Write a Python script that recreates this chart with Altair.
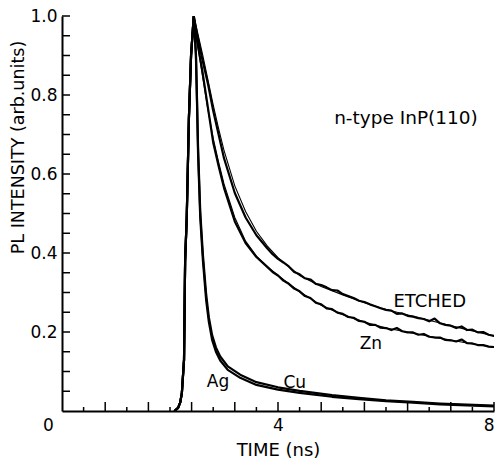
import altair as alt
import pandas as pd

# ---- data (time in ns, PL intensity in arbitrary units) ----
series_names = ["ETCHED", "Zn", "Ag", "Cu"]
sample_label = "n-type InP(110)"

# common excitation rise shared by all four transients
rise_t = [2.08, 2.15, 2.19, 2.22, 2.26, 2.28, 2.31, 2.35, 2.39, 2.44]
rise_v = [0.0, 0.008, 0.022, 0.046, 0.13, 0.38, 0.49, 0.74, 0.90, 1.0]

# measured decays
etched_t = [2.5, 2.6, 2.7, 2.8, 2.9, 3.0, 3.2, 3.4, 3.6, 3.8, 3.9,
            4.0, 4.1, 4.2, 4.3, 4.4, 4.5, 4.6, 4.7, 4.8, 4.9,
            5.0, 5.1, 5.2, 5.3, 5.4, 5.5, 5.6, 5.7, 5.8, 5.9,
            6.0, 6.1, 6.2, 6.3, 6.4, 6.5, 6.6, 6.7, 6.8, 6.9,
            7.0, 7.1, 7.2, 7.3, 7.4, 7.5, 7.6, 7.7, 7.8, 7.9, 8.0, 8.1]
etched_v = [0.955, 0.89, 0.83, 0.76, 0.70, 0.64, 0.552, 0.49, 0.445, 0.412, 0.397,
            0.385, 0.376, 0.366, 0.352, 0.346, 0.336, 0.333, 0.322, 0.319, 0.313,
            0.306, 0.305, 0.296, 0.291, 0.286, 0.279, 0.276, 0.270, 0.265, 0.260,
            0.256, 0.254, 0.246, 0.247, 0.241, 0.239, 0.235, 0.233, 0.227, 0.234,
            0.222, 0.218, 0.216, 0.210, 0.214, 0.205, 0.206, 0.199, 0.200, 0.193, 0.190, 0.187]

zn_t = [2.5, 2.6, 2.7, 2.8, 2.9, 3.0, 3.2, 3.4, 3.6, 3.8, 3.9,
        4.0, 4.1, 4.2, 4.3, 4.4, 4.5, 4.6, 4.7, 4.8, 4.9,
        5.0, 5.1, 5.2, 5.3, 5.4, 5.5, 5.6, 5.7, 5.8, 5.9,
        6.0, 6.1, 6.2, 6.3, 6.4, 6.5, 6.6, 6.7, 6.8, 6.9,
        7.0, 7.1, 7.2, 7.3, 7.4, 7.5, 7.6, 7.7, 7.8, 7.9, 8.0, 8.1]
zn_v = [0.94, 0.86, 0.77, 0.68, 0.62, 0.565, 0.48, 0.425, 0.39, 0.365, 0.352,
        0.343, 0.330, 0.322, 0.310, 0.303, 0.291, 0.286, 0.274, 0.270, 0.260,
        0.258, 0.249, 0.246, 0.238, 0.236, 0.228, 0.226, 0.218, 0.218, 0.211,
        0.210, 0.205, 0.210, 0.202, 0.199, 0.199, 0.193, 0.195, 0.188, 0.186,
        0.186, 0.180, 0.179, 0.176, 0.181, 0.172, 0.171, 0.167, 0.167, 0.163, 0.162, 0.160]

ag_t = [2.46, 2.48, 2.50, 2.52, 2.56, 2.61, 2.67, 2.72, 2.78, 2.85, 2.93,
        3.07, 3.3, 3.6, 4.0, 4.4, 5.0, 5.5, 6.0, 6.5, 7.0, 7.5, 8.1]
ag_v = [0.95, 0.90, 0.78, 0.65, 0.49, 0.38, 0.28, 0.225, 0.18, 0.15, 0.128,
        0.104, 0.084, 0.066, 0.054, 0.046, 0.036, 0.030, 0.025, 0.021, 0.017, 0.014, 0.011]

cu_t = [2.46, 2.48, 2.50, 2.52, 2.56, 2.61, 2.67, 2.72, 2.78, 2.85, 2.93,
        3.07, 3.3, 3.6, 4.0, 4.4, 5.0, 5.5, 6.0, 6.5, 7.0, 7.5, 8.1]
cu_v = [0.95, 0.905, 0.79, 0.665, 0.505, 0.395, 0.295, 0.237, 0.192, 0.161, 0.138,
        0.113, 0.092, 0.073, 0.060, 0.051, 0.040, 0.033, 0.027, 0.023, 0.019, 0.016, 0.013]

# fitted curves for the two slow transients
etched_fit_t = [2.44, 2.5, 2.6, 2.7, 2.8, 2.9, 3.0, 3.2, 3.4, 3.6, 3.8, 4.0,
                4.4, 4.8, 5.2, 5.6, 6.0, 6.5, 7.0, 7.5, 8.0, 8.1]
etched_fit_v = [1.0, 0.965, 0.905, 0.84, 0.775, 0.715, 0.66, 0.57, 0.505, 0.455, 0.418, 0.388,
                0.343, 0.315, 0.294, 0.274, 0.257, 0.240, 0.223, 0.206, 0.190, 0.188]
zn_fit_t = [2.44, 2.5, 2.6, 2.7, 2.8, 2.9, 3.0, 3.2, 3.4, 3.6, 3.8, 4.0,
            4.4, 4.8, 5.2, 5.6, 6.0, 6.5, 7.0, 7.5, 8.0, 8.1]
zn_fit_v = [1.0, 0.935, 0.85, 0.765, 0.69, 0.63, 0.575, 0.49, 0.43, 0.392, 0.366, 0.343,
            0.302, 0.268, 0.244, 0.225, 0.210, 0.197, 0.184, 0.172, 0.161, 0.159]

# axis tick positions and labels
x_major_ticks = [0.8, 1.6, 2.4, 3.2, 4.0, 4.8, 5.6, 6.4, 7.2, 8.0]
x_minor_ticks = [0.4, 1.2, 2.0, 2.8, 3.6, 4.4, 5.2, 6.0, 6.8, 7.6]
x_label_values = [0, 4, 8]
y_ticks = [0.05, 0.10, 0.15, 0.20, 0.25, 0.30, 0.35, 0.40, 0.45, 0.50,
           0.55, 0.60, 0.65, 0.70, 0.75, 0.80, 0.85, 0.90, 0.95, 1.0]
y_label_values = [0.2, 0.4, 0.6, 0.8, 1.0]

# ---- tables ----
measured = {
    "ETCHED": (etched_t, etched_v),
    "Zn": (zn_t, zn_v),
    "Ag": (ag_t, ag_v),
    "Cu": (cu_t, cu_v),
}
rows = []
for name in series_names:
    ts, vs = measured[name]
    for t, v in zip(rise_t + ts, rise_v + vs):
        rows.append({"t": t, "v": v, "series": name})
meas_df = pd.DataFrame(rows)

fit_rows = []
for name, ts, vs in [("ETCHED", etched_fit_t, etched_fit_v), ("Zn", zn_fit_t, zn_fit_v)]:
    for t, v in zip(ts, vs):
        fit_rows.append({"t": t, "v": v, "series": name})
fit_df = pd.DataFrame(fit_rows)

W, H = 432, 395
FONT = "DejaVu Sans"
xs = alt.Scale(domain=[0, 8], nice=False, zero=False)
ys = alt.Scale(domain=[0, 1.0], nice=False)

x_axis = alt.Axis(
    values=x_label_values, ticks=False, grid=False, format="d",
    domainColor="black", domainWidth=2,
    labelFont=FONT, labelFontSize=17, labelColor="black", labelPadding=6,
    # origin label sits left of the corner, last label kept inside the canvas
    labelOffset={"condition": {"test": "datum.value === 0", "value": -14}, "value": 0},
    labelAlign={"condition": {"test": "datum.value === 8", "value": "right"}, "value": "center"},
    labelBound=False, labelFlush=False, labelOverlap=False,
    title="TIME (ns)", titleFont=FONT, titleFontSize=18, titleFontWeight="normal",
    titleColor="black", titlePadding=8,
)
y_axis = alt.Axis(
    values=y_label_values, ticks=False, grid=False, format=".1f",
    domainColor="black", domainWidth=2,
    labelFont=FONT, labelFontSize=17, labelColor="black", labelPadding=5,
    labelOverlap=False,
    title="PL INTENSITY (arb.units)", titleFont=FONT, titleFontSize=17.5,
    titleFontWeight="normal", titleColor="black",
    titleAngle=-90, titleAlign="center", titleBaseline="middle",
    titleX=-44, titleY=131,
)

X = lambda f: alt.X(f, scale=xs, axis=x_axis)
Y = lambda f: alt.Y(f, scale=ys, axis=y_axis)

meas = alt.Chart(meas_df).mark_line(
    color="black", strokeWidth=2.2, clip=True, strokeJoin="round"
).encode(x=X("t:Q"), y=Y("v:Q"), detail="series:N", order="t:Q")

fit = alt.Chart(fit_df).mark_line(color="black", strokeWidth=1.1, clip=True).encode(
    x=X("t:Q"), y=Y("v:Q"), detail="series:N", order="t:Q"
)

# inward tick marks drawn as short rules
xmaj = alt.Chart(pd.DataFrame({"t": x_major_ticks})).mark_rule(color="black", strokeWidth=1.5).encode(
    x=X("t:Q"), y=alt.value(H), y2=alt.value(H - 9)
)
xmin = alt.Chart(pd.DataFrame({"t": x_minor_ticks})).mark_rule(color="black", strokeWidth=1.5).encode(
    x=X("t:Q"), y=alt.value(H), y2=alt.value(H - 4)
)
ytk = alt.Chart(pd.DataFrame({"v": y_ticks})).mark_rule(color="black", strokeWidth=1.5).encode(
    y=Y("v:Q"), x=alt.value(0), x2=alt.value(8)
)


def label(text, t, v, size):
    return alt.Chart(pd.DataFrame({"label": [text]})).mark_text(
        font=FONT, fontSize=size, color="black", align="center", baseline="middle"
    ).encode(
        x=alt.datum(t, scale=xs, axis=x_axis),
        y=alt.datum(v, scale=ys, axis=y_axis),
        text="label:N",
    )


labels = [
    label(series_names[0], 6.81, 0.276, 18),
    label(series_names[1], 5.72, 0.170, 17),
    label(series_names[2], 2.89, 0.073, 17),
    label(series_names[3], 4.31, 0.071, 17),
    label(sample_label, 6.37, 0.742, 18.5),
]

chart = alt.layer(meas, fit, xmaj, xmin, ytk, *labels).properties(
    width=W, height=H,
    autosize=alt.AutoSizeParams(type="none"),
    padding={"left": 62, "top": 16, "right": 2, "bottom": 48},
    background="white",
).configure_view(stroke=None)

chart.save("out.html", embed_options={"renderer": "svg", "actions": False})
